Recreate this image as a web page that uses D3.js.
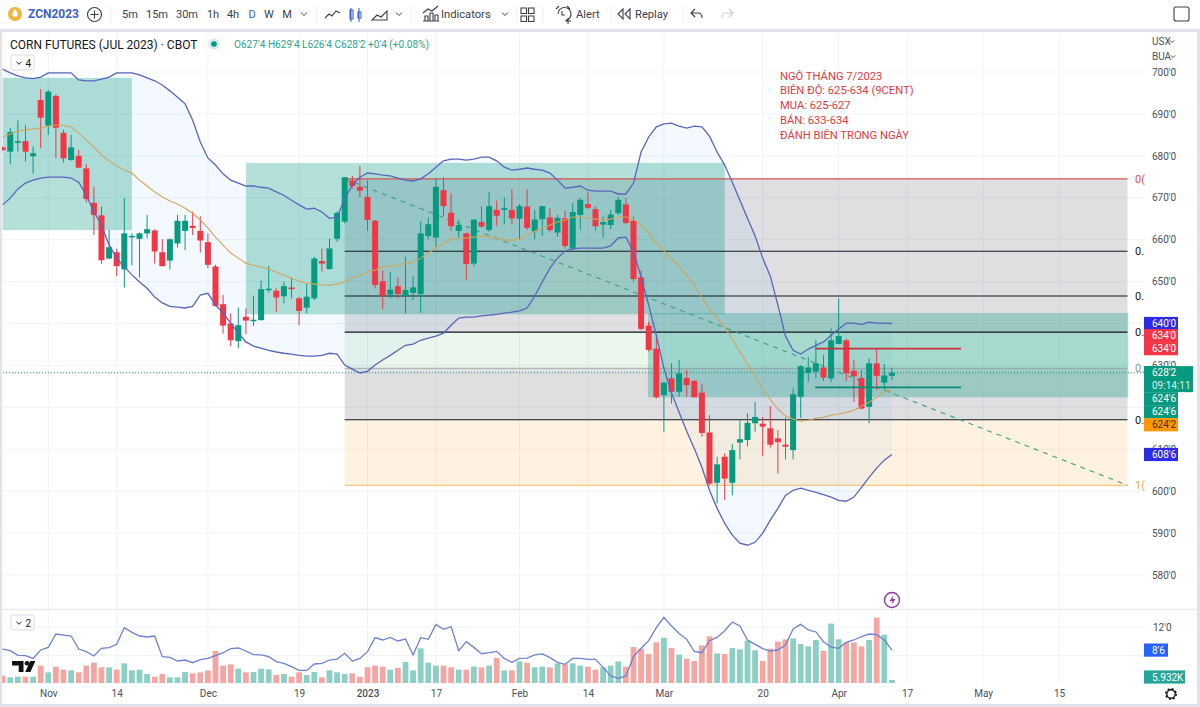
<!DOCTYPE html>
<html>
<head>
<meta charset="utf-8">
<title>Corn Futures (Jul 2023)</title>
<script src="https://cdn.jsdelivr.net/npm/d3@7/dist/d3.min.js"></script>
<style>
html,body{margin:0;padding:0;background:#fff;overflow:hidden}
svg{display:block;font-family:Roboto,"Open Sans",sans-serif}
.axis path,.axis line{display:none}
</style>
</head>
<body>
<svg id="chart" width="1200" height="707"></svg>
<script>
// Daily session OHLC, in cents per bushel
const opens = [682.0,681.0,683.1,683.5,679.9,693.3,687.2,694.3,685.5,679.0,
680.0,677.0,668.8,665.8,655.5,657.0,652.9,660.6,660.2,661.5,
662.2,657.0,655.0,659.1,662.1,663.3,662.1,659.4,653.6,644.6,
640.0,635.8,641.6,640.7,640.8,648.1,647.8,646.5,648.6,646.0,
643.8,646.0,654.9,653.0,660.2,664.3,674.1,672.6,670.2,664.5,
650.1,646.9,648.9,646.5,647.3,647.0,660.9,660.5,671.8,666.4,
662.1,661.5,654.3,664.2,662.3,667.1,667.1,667.1,665.0,667.9,
662.0,664.9,665.3,661.7,665.1,657.9,665.9,668.5,667.3,663.6,
663.5,666.3,668.4,664.5,651.0,639.5,634.0,622.9,626.9,623.7,
627.0,626.3,623.5,614.0,602.0,608.2,602.0,611.6,612.2,616.2,
616.1,615.0,612.6,611.1,609.8,622.5,628.2,628.5,629.5,626.9,
635.1,636.0,628.7,627.0,620.1,630.5,625.9,627.5];
const highs = [682.2,686.6,688.5,687.4,682.2,695.9,695.7,694.7,686.2,685.0,
681.4,678.0,672.6,667.9,662.3,657.9,669.9,661.5,661.7,665.9,
662.5,660.1,660.3,665.9,665.9,666.7,665.6,661.5,654.0,646.8,
642.4,643.8,643.6,646.6,650.2,653.7,648.4,650.0,651.0,646.4,
649.4,655.9,657.9,660.3,666.7,675.0,675.2,677.6,674.2,664.7,
652.7,652.3,651.0,655.9,651.3,664.4,665.3,674.6,674.9,671.0,
664.8,661.7,664.8,668.0,671.4,669.3,670.1,672.0,668.5,672.0,
667.1,668.0,667.5,665.9,666.9,668.7,669.9,671.3,667.9,665.5,
667.1,670.1,669.9,665.5,652.7,640.4,636.8,625.9,630.5,631.3,
628.9,626.5,625.5,618.1,608.2,609.0,611.2,617.1,618.5,621.3,
617.7,620.3,614.6,617.6,624.5,630.1,631.9,636.0,632.5,638.8,
646.0,636.4,631.3,628.9,631.7,634.0,630.3,629.5];
const lows = [681.2,678.0,681.0,678.6,675.8,681.8,685.0,679.4,678.4,678.8,
677.0,668.9,661.1,654.3,655.3,651.3,648.6,653.9,651.0,660.3,
654.3,653.6,652.9,658.1,657.5,661.1,656.9,653.2,644.0,637.6,
634.6,634.1,637.5,639.4,640.7,647.4,642.8,644.8,646.0,639.6,
642.4,645.6,652.4,652.8,659.5,663.9,672.2,670.1,662.1,648.4,
643.4,646.0,646.0,642.4,645.6,642.6,660.1,658.3,665.5,662.1,
660.5,650.4,653.7,662.9,661.9,663.3,663.7,663.7,660.1,662.3,
660.1,660.9,661.9,660.7,657.9,657.5,662.3,667.3,662.1,660.5,
662.5,665.9,663.7,650.0,638.4,633.3,622.1,614.2,620.9,622.5,
622.5,622.3,613.0,601.4,597.1,597.9,599.0,607.6,610.7,614.2,
608.4,610.4,604.2,607.6,607.6,617.5,626.1,626.9,626.3,626.1,
635.1,626.3,621.3,619.5,616.2,624.1,624.1,626.5];
const closes = [681.4,685.7,683.5,681.0,680.6,689.1,695.3,686.7,679.4,682.0,
677.2,669.7,665.9,655.1,658.2,653.7,661.5,660.9,661.5,662.5,
657.2,653.7,660.1,664.5,664.5,662.8,659.8,654.0,644.2,639.5,
636.0,639.6,640.7,640.9,648.2,648.3,646.2,648.9,648.2,643.0,
646.4,655.5,654.3,657.9,666.4,674.9,672.8,671.7,664.7,649.2,
646.7,648.1,647.0,648.0,648.6,661.5,663.7,672.6,668.0,663.2,
663.5,654.2,664.8,663.1,668.0,665.7,667.5,665.1,668.0,662.8,
664.8,668.0,662.3,665.2,658.5,666.6,669.5,667.6,663.2,664.2,
666.0,669.5,664.0,650.6,638.7,633.7,622.4,625.9,623.7,628.1,
625.3,622.4,613.9,601.8,606.4,603.0,609.8,612.4,616.3,617.7,
615.4,611.1,611.7,610.6,623.1,629.8,629.5,630.5,627.1,636.0,
637.0,628.1,627.4,619.7,630.5,627.5,627.6,628.25];

// Bollinger bands, 20-session
const bandUpper = [700.7,699.8,699.1,698.6,698.4,698.8,699.8,699.8,699.8,699.8,
698.1,697.9,697.9,698.3,698.8,699.8,699.8,699.8,699.3,698.6,
697.9,696.9,695.5,694.0,692.4,688.5,683.3,679.5,677.8,675.7,
674.2,673.5,672.8,672.8,672.5,672.3,671.4,670.6,669.4,668.3,
667.3,667.5,666.6,665.1,665.4,669.7,673.0,674.9,675.9,675.7,
675.4,675.2,674.7,674.2,674.0,674.5,675.7,677.3,678.8,679.2,
679.2,679.0,679.2,679.7,679.7,678.8,677.3,676.6,676.8,677.1,
676.8,676.6,675.9,674.2,672.3,672.5,672.8,671.8,671.6,671.6,
671.6,670.9,670.9,673.5,680.9,684.5,686.9,687.6,687.8,687.1,
686.6,687.1,686.9,684.7,680.9,677.8,673.7,669.4,665.1,660.9,
655.6,651.3,644.4,637.0,633.6,632.7,633.9,634.8,635.6,637.2,
638.7,640.1,640.1,639.8,640.3,640.1,640.1,640.0];
const bandMiddle = [684.5,685.2,685.9,686.2,686.4,686.6,687.1,687.3,687.3,686.9,
685.4,683.8,682.1,680.2,678.8,677.6,676.6,675.9,674.2,672.8,
671.4,670.2,669.2,668.5,667.5,666.3,664.7,662.8,660.6,658.7,
656.8,655.6,654.4,653.9,653.5,653.0,652.3,651.5,650.8,650.1,
649.6,649.4,649.2,649.2,649.4,649.9,650.8,651.5,652.3,652.7,
653.5,653.7,653.9,654.4,654.6,655.6,656.8,658.0,659.2,660.1,
660.4,660.4,660.6,660.9,660.6,660.4,659.9,659.9,660.1,661.1,
662.0,662.8,663.5,664.2,664.7,665.4,665.4,665.1,664.9,664.7,
664.9,665.4,665.4,664.9,663.5,661.6,659.2,657.3,655.4,653.7,
651.5,649.2,646.1,643.4,641.3,639.1,636.3,633.2,630.3,627.4,
624.3,621.9,619.6,617.9,617.2,616.7,616.9,617.4,617.6,618.1,
618.4,618.8,619.3,620.3,621.2,622.4,623.6,624.25];
const bandLower = [668.3,669.9,672.1,673.5,674.2,674.7,674.9,674.9,674.9,674.7,
673.7,670.6,666.6,663.5,658.7,655.6,653.5,651.6,649.9,648.4,
646.3,644.9,644.1,643.9,643.7,644.1,646.8,647.2,644.4,642.5,
640.1,637.7,635.6,634.6,634.1,633.6,633.2,632.9,632.7,632.4,
632.2,632.2,632.4,632.9,632.7,630.1,629.1,628.2,628.6,630.1,
631.3,632.4,633.6,634.8,635.1,636.0,636.5,637.0,637.7,639.6,
641.3,641.5,641.5,641.8,642.0,642.2,642.5,642.7,643.0,643.7,
646.5,649.9,653.2,655.6,657.3,657.8,658.0,658.0,658.0,658.0,
658.5,660.4,660.6,657.0,651.1,644.4,637.2,629.3,623.4,618.8,
614.3,610.2,605.7,600.2,595.9,592.3,589.5,587.6,587.1,587.8,
590.0,593.1,595.9,599.0,600.2,600.7,600.2,599.7,599.2,598.6,
597.8,597.6,598.6,600.9,603.3,605.5,607.4,608.75];

// Session volume in thousands of contracts
const volumes = [14.7,11.3,12.7,12.7,12.7,34.7,21.3,32.7,26.7,25.3,
21.3,34.7,40.7,31.3,31.3,26.7,39.3,25.3,26.7,18,
12.7,18,11.3,11.3,22,19.3,21.3,25.3,64,34.7,
37.3,28.7,21.3,22,28.7,27.3,16,18,12.7,21.3,
16,22,11.3,25.3,21.3,18,19.3,12.7,31.3,34.7,
32.7,26.7,30,42,25.3,69.3,40.7,34.7,34.7,31.3,
26.7,26.7,32.7,31.3,34.7,50,25.3,25.3,43.3,40.7,
31.3,32.7,31.3,39.3,37.3,39.3,34.7,32.7,26.7,31.3,
34.7,43.3,32.7,72,68.7,58,81.3,90.7,70,56.7,
48.7,44,75.3,93.3,59.3,58,70,67.3,84.7,65.3,
44,68.7,82.7,87.3,89.3,78,73.3,86,64,118.7,
87.3,81.3,81.3,73.3,86,130.7,96.7,5.93];

// Average true range shown in the lower pane
const atrValues = [8.9,8.66,8.0,7.96,7.58,8.76,9.13,11.01,10.87,10.73,
8.9,8.52,7.91,9.0,9.09,9.56,11.9,11.25,10.73,10.59,
10.73,7.82,7.73,7.21,7.35,6.97,7.4,7.58,7.96,8.38,
8.95,9.04,8.62,8.1,8.06,7.82,7.12,6.88,6.41,5.89,
5.89,6.79,6.88,7.35,7.49,8.29,7.21,7.58,8.52,10.5,
10.17,10.54,10.03,10.31,8.06,10.5,10.26,12.37,11.67,12.05,
8.66,9.93,9.13,8.24,8.38,8.57,7.58,7.02,7.58,7.63,
8.06,8.2,7.68,7.02,6.74,7.58,7.58,7.44,7.44,6.32,
5.1,4.77,5.1,7.82,9.0,10.07,11.9,13.36,12.14,11.1,
10.26,8.57,8.38,10.07,10.54,11.48,12.7,12.14,10.17,9.56,
8.95,8.62,8.76,9.46,11.72,12.37,11.58,11.3,9.93,9.18,
9.0,9.84,10.17,10.64,11.01,10.92,10.17,8.75];

// Price and time axis ticks; priceLabels leaves out the levels covered by price tags
const priceTicks = [700,690,680,670,660,650,640,630,620,610,600,590,580];
const priceLabels = [700,690,680,670,660,650,630,610,600,590,580];
const atrTicks = [12,8];
const atrLabels = [12];
const timeTickIndex = [6,15,27,39,48,57,68,77,87,100,110,119,129,139];
const timeTickLabels = ["Nov","14","Dec","19","2023","17","Feb","14","Mar","20","Apr","17","May","15"];

// Drawing tools placed on the chart
const shadedZones = [
  {from:0,to:17,top:698.6,bottom:662.3},
  {from:32,to:95,top:678.3,bottom:642.2},
  {from:84.9,to:148.1,top:642.5,bottom:622.4}
];
const fibFrom = 45, fibTo = 148, fibHigh = 674.5, fibLow = 601.4;
const fibRatios = [0,0.236,0.382,0.5,0.618,0.786,1];
const fibLabels = ["0(","0.","0.","0.","0.","0.","1("];
const fibLineColors = ["#d9534f","#131722","#131722","#131722","#8a9a8f","#131722","#f5b862"];
const fibFillColors = ["rgba(120,123,134,.24)","rgba(120,123,134,.24)","rgba(120,123,134,.24)","rgba(76,175,80,.11)","rgba(120,123,134,.24)","rgba(255,152,0,.12)"];
const rangeLevels = [{price:634,color:"#c8323c"},{price:624.75,color:"#0b8a74"}];
const rangeFrom = 106.9, rangeTo = 126.1;
const lastPrice = 628.25;

const noteLines = ["NGÔ THÁNG 7/2023","BIÊN ĐỘ: 625-634 (9CENT)","MUA: 625-627","BÁN: 633-634","ĐÁNH BIÊN TRONG NGÀY"];
const legendValues = "O627'4 H629'4 L626'4 C628'2 +0'4 (+0.08%)";
const intervals = [["5m",130],["15m",157],["30m",187],["1h",213],["4h",233],["D",252],["W",269],["M",287]];

const svg = d3.select("#chart");
const up = "#089981", down = "#f23645";

// Scales
const x = d3.scaleLinear().domain([0,117]).range([2.7,891.9]);
const y = d3.scaleLinear().domain([580,700]).range([575,72]);
const yAtr = d3.scaleLinear().domain([8,12]).range([655.4,627]);
const yVol = d3.scaleLinear().domain([0,130]).range([683,618]);
const candleIndex = d3.range(closes.length);
const bodyW = 6;

// Panel frame
svg.append("rect").attr("width",1200).attr("height",707).attr("fill","#fff");

// Grid
const grid = svg.append("g").attr("stroke","#f1f3f8").attr("stroke-width",1);
grid.selectAll("line.h").data(priceTicks).join("line")
  .attr("x1",0).attr("x2",1145).attr("y1",d=>y(d)).attr("y2",d=>y(d));
grid.selectAll("line.v").data(timeTickIndex).join("line")
  .attr("x1",d=>x(d)).attr("x2",d=>x(d)).attr("y1",33).attr("y2",683);
grid.selectAll("line.a").data(atrTicks).join("line")
  .attr("x1",0).attr("x2",1145).attr("y1",d=>yAtr(d)).attr("y2",d=>yAtr(d));

// Fibonacci fills
const fibPrice = r => fibHigh - (fibHigh-fibLow)*r;
const fibG = svg.append("g");
fibG.selectAll("rect").data(fibFillColors).join("rect")
  .attr("x",x(fibFrom)).attr("width",x(fibTo)-x(fibFrom))
  .attr("y",(d,i)=>y(fibPrice(fibRatios[i])))
  .attr("height",(d,i)=>y(fibPrice(fibRatios[i+1]))-y(fibPrice(fibRatios[i])))
  .attr("fill",d=>d);

// Bollinger band fill
svg.append("path").datum(candleIndex)
  .attr("fill","rgba(33,150,243,.055)")
  .attr("d",d3.area().x(i=>x(i)).y0(i=>y(bandLower[i])).y1(i=>y(bandUpper[i])));

// Shaded zones
svg.append("g").selectAll("rect").data(shadedZones).join("rect")
  .attr("x",d=>x(d.from)).attr("width",d=>x(d.to)-x(d.from))
  .attr("y",d=>y(d.top)).attr("height",d=>y(d.bottom)-y(d.top))
  .attr("fill","rgba(8,153,129,.3)");

// Fibonacci level lines and labels
svg.append("g").selectAll("line").data(fibRatios).join("line")
  .attr("x1",x(fibFrom)).attr("x2",x(fibTo))
  .attr("y1",d=>y(fibPrice(d))).attr("y2",d=>y(fibPrice(d)))
  .attr("stroke",(d,i)=>fibLineColors[i]).attr("stroke-width",(d,i)=>i===4?0.8:1.1);
svg.append("g").selectAll("text").data(fibRatios).join("text")
  .attr("x",1135).attr("y",d=>y(fibPrice(d))+4)
  .attr("font-size",11)
  .attr("fill",(d,i)=>["#d9534f","#131722","#131722","#131722","#7fa08c","#131722","#eda94a"][i])
  .text((d,i)=>fibLabels[i]);

// Fib trend line
svg.append("line")
  .attr("x1",x(fibFrom)).attr("y1",y(fibHigh)).attr("x2",x(fibTo)).attr("y2",y(fibLow))
  .attr("stroke","#3d9d87").attr("stroke-width",1.1).attr("stroke-dasharray","5 5");

// Last price line
svg.append("line").attr("x1",0).attr("x2",1145)
  .attr("y1",y(lastPrice)).attr("y2",y(lastPrice))
  .attr("stroke",up).attr("stroke-width",1).attr("stroke-dasharray","1 2");

// Volume bars
svg.append("g").selectAll("rect").data(candleIndex).join("rect")
  .attr("x",i=>x(i)-2.9).attr("width",5.8)
  .attr("y",i=>yVol(volumes[i])).attr("height",i=>683-yVol(volumes[i]))
  .attr("fill",i=>closes[i]<opens[i]?"#f5a6a3":"#8ccfc4");

// ATR line
svg.append("path").datum(atrValues).attr("fill","none")
  .attr("stroke","#6d82d2").attr("stroke-width",1.3)
  .attr("d",d3.line().x((d,i)=>x(i)).y(d=>yAtr(d)));

// Candles
const candles = svg.append("g").selectAll("g").data(candleIndex).join("g")
  .attr("fill",i=>closes[i]<opens[i]?down:up)
  .attr("stroke",i=>closes[i]<opens[i]?down:up);
candles.append("line")
  .attr("x1",i=>x(i)).attr("x2",i=>x(i))
  .attr("y1",i=>y(highs[i])).attr("y2",i=>y(lows[i]))
  .attr("stroke-width",1);
candles.append("rect")
  .attr("stroke","none")
  .attr("x",i=>x(i)-bodyW/2).attr("width",bodyW)
  .attr("y",i=>y(Math.max(opens[i],closes[i])))
  .attr("height",i=>Math.max(1.5,Math.abs(y(opens[i])-y(closes[i]))));

// Band lines
const bandLine = arr => d3.line().x((d,i)=>x(i)).y(d=>y(d))(arr);
svg.append("path").attr("d",bandLine(bandMiddle)).attr("fill","none").attr("stroke","#d3a55a").attr("stroke-width",1.1);
[bandUpper,bandLower].forEach(b=>{
  svg.append("path").attr("d",bandLine(b)).attr("fill","none").attr("stroke","#5a64bd").attr("stroke-width",1.3);
});

// Range levels
svg.append("g").selectAll("line").data(rangeLevels).join("line")
  .attr("x1",x(rangeFrom)).attr("x2",x(rangeTo))
  .attr("y1",d=>y(d.price)).attr("y2",d=>y(d.price))
  .attr("stroke",d=>d.color).attr("stroke-width",1.6);

// Trade note
svg.append("g").selectAll("text").data(noteLines).join("text")
  .attr("x",780).attr("y",(d,i)=>79.5+i*14.8)
  .attr("font-size",11.2).attr("fill","#e23a3f").text(d=>d);

// Price axis
svg.append("g").attr("class","axis").attr("transform","translate(1152,0)")
  .call(d3.axisRight(y).tickValues(priceLabels).tickSize(0).tickPadding(0).tickFormat(d=>d+"'0"))
  .selectAll("text").attr("font-size",10).attr("fill","#4a4f5c").attr("font-family","Roboto,sans-serif");
svg.append("g").attr("class","axis").attr("transform","translate(1153,0)")
  .call(d3.axisRight(yAtr).tickValues(atrLabels).tickSize(0).tickPadding(0).tickFormat(d=>d+"'0"))
  .selectAll("text").attr("font-size",10).attr("fill","#4a4f5c").attr("font-family","Roboto,sans-serif");

// Time axis
const timeAxis = svg.append("g").attr("class","axis").attr("transform","translate(0,689.5)")
  .call(d3.axisBottom(x).tickValues(timeTickIndex).tickSize(0).tickPadding(0).tickFormat((d,i)=>timeTickLabels[i]));
timeAxis.selectAll("text").attr("font-size",10).attr("fill","#4a4f5c").attr("font-family","Roboto,sans-serif")
  .attr("font-weight",(d,i)=>timeTickLabels[i]==="2023"?500:400);

// Price tags on the scale, stacked where values would collide
function tag(text,yc,fill,opt={}){
  const w=opt.w||34,h=opt.h||13.2,tx=1144;
  svg.append("rect").attr("x",tx).attr("y",yc-h/2).attr("width",w).attr("height",h).attr("fill",fill);
  svg.append("text").attr("x",tx+8).attr("y",yc+3.5).attr("font-size",10)
    .attr("fill",opt.ink||"#fff").text(text);
}
const tagRow = 13;
tag("640'0",y(640),"#2f2ae6");
tag("634'0",y(634)-tagRow,"#f23645");
tag("634'0",y(634),"#f23645");
svg.append("rect").attr("x",1144).attr("y",y(lastPrice)-6.6).attr("width",49).attr("height",26).attr("fill",up);
tag("628'2",y(lastPrice),up);
svg.append("text").attr("x",1152).attr("y",y(lastPrice)+16.5).attr("font-size",10).attr("fill","#d9f2ec").text("09:14:11");
tag("624'6",y(lastPrice)+2*tagRow,up);
tag("624'6",y(lastPrice)+3*tagRow,up);
tag("624'2",y(lastPrice)+4*tagRow,"#ff9800",{ink:"#4d2f00"});
tag("608'6",y(608.75),"#2f2ae6");
tag("8'6",yAtr(8.75),"#2962ff",{w:24});
tag("5.932K",677,"#26a69a",{w:41});

svg.append("text").attr("x",1152).attr("y",45).attr("font-size",10).attr("fill","#4a4f5c").text("USX");
svg.append("text").attr("x",1152).attr("y",60).attr("font-size",10).attr("fill","#4a4f5c").text("BUA");
const chev=(cx,cy,col,s=2.2)=>svg.append("path")
  .attr("d",`M${cx-s} ${cy-s/2}L${cx} ${cy+s/2}L${cx+s} ${cy-s/2}`)
  .attr("fill","none").attr("stroke",col).attr("stroke-width",1);
chev(1172,41.5,"#4a4f5c");chev(1173,56.5,"#4a4f5c");

// Frame bands
svg.append("rect").attr("x",0).attr("y",29).attr("width",1200).attr("height",3).attr("fill","#e0e3eb");
svg.append("rect").attr("x",0).attr("y",29).attr("width",2).attr("height",678).attr("fill","#e0e3eb");
svg.append("rect").attr("x",1197).attr("y",29).attr("width",3).attr("height",678).attr("fill","#e0e3eb");
svg.append("rect").attr("x",0).attr("y",704).attr("width",1200).attr("height",3).attr("fill","#e0e3eb");
svg.append("line").attr("x1",2).attr("x2",1197).attr("y1",609.5).attr("y2",609.5).attr("stroke","#e8eaf0").attr("stroke-width",1.5);

// Legend
svg.append("text").attr("x",10).attr("y",49).attr("font-size",12).attr("fill","#131722").text("CORN FUTURES (JUL 2023) · CBOT");
svg.append("circle").attr("cx",214).attr("cy",44).attr("r",5.5).attr("fill","rgba(8,153,129,.18)");
svg.append("circle").attr("cx",214).attr("cy",44).attr("r",2.8).attr("fill",up);
svg.append("text").attr("x",234).attr("y",48).attr("font-size",10.1).attr("fill","#2aa58e").text(legendValues);

// Collapsed indicator badges
function badge(bx,by,count){
  svg.append("rect").attr("x",bx).attr("y",by).attr("width",23).attr("height",15).attr("rx",2)
    .attr("fill","#fff").attr("stroke","#d8dbe3");
  chev(bx+8,by+8,"#131722",2.6);
  svg.append("text").attr("x",bx+14.5).attr("y",by+11.5).attr("font-size",10).attr("fill","#131722").text(count);
}
badge(11,55,"4");
badge(11,615,"2");

// Watermark mark
svg.append("path").attr("fill","#111")
  .attr("d","M12 661h11.5v11h-4.8v-6.6H12zM30.2 661h5.2l-5 11h-5.2z");
svg.append("circle").attr("cx",27).attr("cy",663.3).attr("r",2.3).attr("fill","#111");

// Event marker
svg.append("circle").attr("cx",892).attr("cy",600).attr("r",7.5).attr("fill","#fff").attr("stroke","#8e3aa8").attr("stroke-width",1.4);
svg.append("path").attr("d","M893.5 595l-4 6h3l-1 4 4-6h-3z").attr("fill","#8e3aa8");

// Settings gear
svg.append("circle").attr("cx",1171).attr("cy",694).attr("r",4.2).attr("fill","none").attr("stroke","#131722").attr("stroke-width",1.4);
svg.append("circle").attr("cx",1171).attr("cy",694).attr("r",5.2).attr("fill","none").attr("stroke","#131722").attr("stroke-width",1.6).attr("stroke-dasharray","2 2.08");

// Toolbar
const bar = svg.append("g");
bar.append("circle").attr("cx",15).attr("cy",14).attr("r",7).attr("fill","#f2b43a");
bar.append("path").attr("d","M15 9c2.6 3 3 4.8 2.6 6a2.7 2.7 0 0 1-5.2 0c-.4-1.2 0-3 2.6-6z").attr("fill","#fff");
bar.append("text").attr("x",28).attr("y",18).attr("font-size",12).attr("font-weight",700).attr("fill","#3d62c8").text("ZCN2023");
bar.append("circle").attr("cx",94.5).attr("cy",14.5).attr("r",7).attr("fill","none").attr("stroke","#3a3e4a").attr("stroke-width",1.1);
bar.append("path").attr("d","M94.5 10.5v8M90.5 14.5h8").attr("stroke","#3a3e4a").attr("stroke-width",1.1);
bar.selectAll("text.iv").data(intervals).join("text").attr("class","iv")
  .attr("x",d=>d[1]).attr("y",18).attr("text-anchor","middle").attr("font-size",11)
  .attr("fill",d=>d[0]==="D"?"#3d62c8":"#3a3e4a").text(d=>d[0]);
chev(304,14,"#3a3e4a",3);
chev(399,14,"#3a3e4a",3);
chev(505,14,"#3a3e4a",3);
const seps=[111,317,411,517,543,611,683];
bar.selectAll("line.sep").data(seps).join("line").attr("class","sep")
  .attr("x1",d=>d).attr("x2",d=>d).attr("y1",6).attr("y2",24).attr("stroke","#eceef3");
const ink="#3a3e4a";
const icon=(d,c=ink)=>bar.append("path").attr("d",d).attr("fill","none").attr("stroke",c).attr("stroke-width",1.1);
icon("M325 18l4-4 3 2 4-5 4 2");
icon("M351 8v14M350 10h3v9h-3zM359 8v14M358 12h3v6h-3z","#3d62c8");
icon("M372 20l5-5 4 2 6-6v9h-15z");
icon("M423 21h16M425 21v-5h3v5M430 21v-8h3v8M435 21v-6h3v6M423 13l5-4 4 2 6-5");
bar.append("text").attr("x",441).attr("y",18).attr("font-size",11.2).attr("fill",ink).text("Indicators");
icon("M521 8h5.5v5.5h-5.5zM528.5 8h5.5v5.5h-5.5zM521 16h5.5v5.5h-5.5zM528.5 16h5.5v5.5h-5.5z");
icon("M558 14a6.5 6.5 0 1 1 8 6.3M556 9l3-3M570 9l-3-3M562 11v4h3M568 18v6M565 21h6");
bar.append("text").attr("x",576).attr("y",18).attr("font-size",11.2).attr("fill",ink).text("Alert");
icon("M623 9l-5 5 5 5zM630 9l-5 5 5 5z");
bar.append("text").attr("x",635).attr("y",18).attr("font-size",11.2).attr("fill",ink).text("Replay");
icon("M695 9l-4 4 4 4M691 13h7c3 0 4 2 4 5");
icon("M729 9l4 4-4 4M733 13h-7c-3 0-4 2-4 5","#c9ccd4");
svg.append("rect").attr("x",1174).attr("y",7).attr("width",15).attr("height",14).attr("rx",2).attr("fill","none").attr("stroke","#3a3e4a").attr("stroke-width",1.1);
</script>
</body>
</html>
